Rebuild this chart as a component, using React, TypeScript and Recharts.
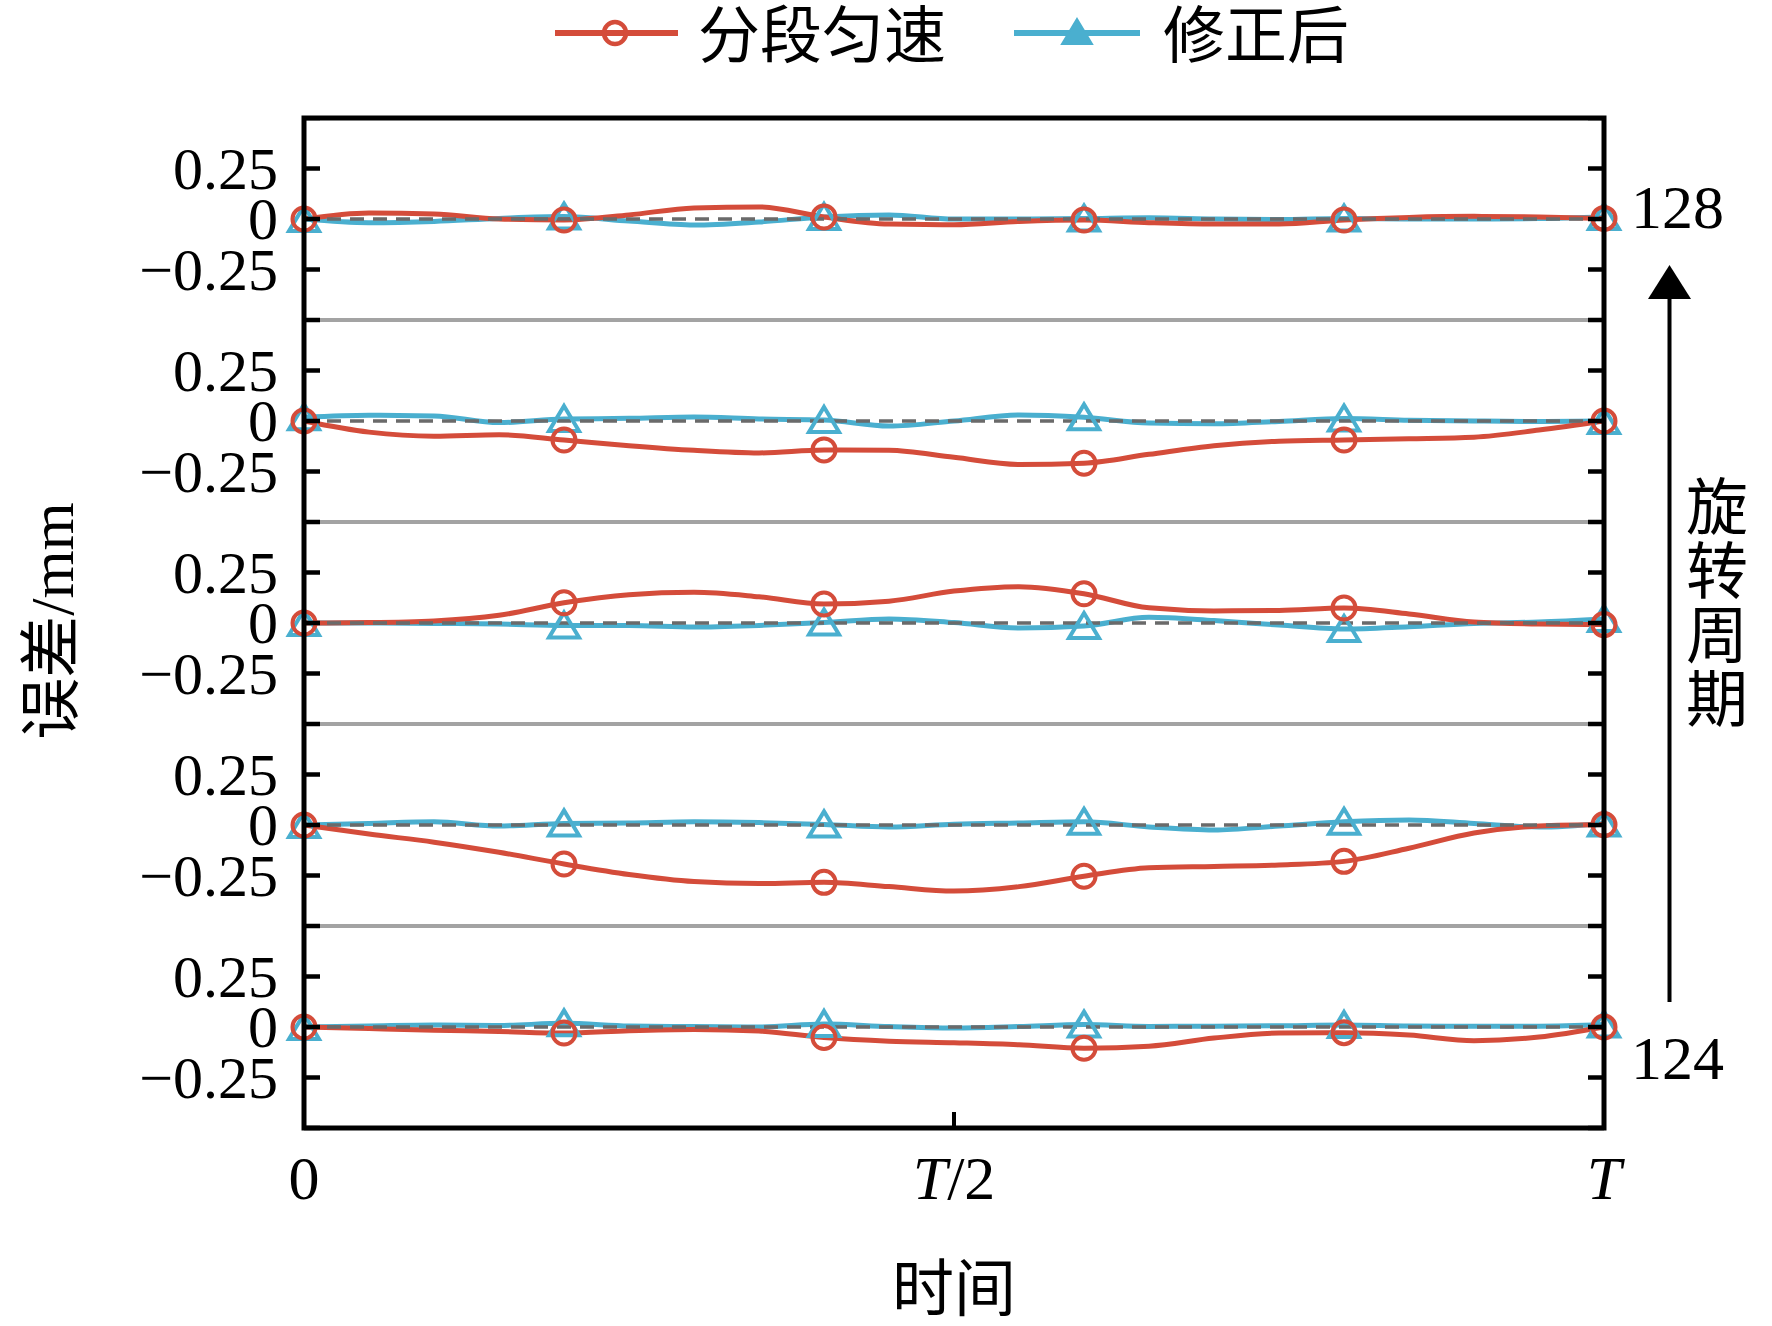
import React from "react";
import { LineChart, Line, XAxis, YAxis, ReferenceLine } from "recharts";

// time axis, in units of the rotation period T
const T_GRID = [
  0, 0.05, 0.1, 0.15, 0.2, 0.25, 0.3, 0.35, 0.4, 0.45, 0.5, 0.55, 0.6, 0.65,
  0.7, 0.75, 0.8, 0.85, 0.9, 0.95, 1,
];

// 分段匀速 (segmented uniform speed) error, mm, per rotation cycle
const SEG_128 = [
  0, 0.03, 0.025, 0, -0.005, 0.02, 0.055, 0.06, 0.01, -0.025, -0.028, -0.012,
  -0.005, -0.018, -0.025, -0.025, -0.005, 0.008, 0.013, 0.01, 0.003,
];
const SEG_127 = [
  0, -0.055, -0.075, -0.068, -0.094, -0.122, -0.145, -0.158, -0.143, -0.145,
  -0.18, -0.215, -0.209, -0.165, -0.122, -0.1, -0.094, -0.088, -0.08, -0.045, 0,
];
const SEG_126 = [
  0, 0.002, 0.01, 0.038, 0.1, 0.14, 0.152, 0.13, 0.094, 0.108, 0.158, 0.18,
  0.145, 0.075, 0.06, 0.062, 0.074, 0.045, 0.005, -0.005, -0.008,
];
const SEG_125 = [
  0, -0.045, -0.085, -0.135, -0.193, -0.245, -0.28, -0.29, -0.284, -0.305,
  -0.327, -0.305, -0.254, -0.212, -0.205, -0.198, -0.18, -0.115, -0.04, -0.005,
  0.002,
];
const SEG_124 = [
  0, -0.008, -0.016, -0.022, -0.03, -0.018, -0.012, -0.02, -0.052, -0.07,
  -0.078, -0.088, -0.105, -0.095, -0.055, -0.03, -0.028, -0.04, -0.068, -0.05, 0,
];

// 修正后 (corrected) error, mm, per rotation cycle
const COR_128 = [
  0, -0.018, -0.012, 0.003, 0.012, -0.01, -0.03, -0.015, 0.01, 0.02, 0, 0,
  0.002, 0.006, 0, -0.003, 0.002, 0, 0, 0.002, 0.01,
];
const COR_127 = [
  0.018, 0.028, 0.025, -0.008, 0.01, 0.013, 0.02, 0.01, 0.005, -0.025, 0, 0.03,
  0.018, -0.01, -0.014, -0.002, 0.012, 0.004, 0, -0.003, 0,
];
const COR_126 = [
  0, 0, -0.002, -0.005, -0.012, -0.012, -0.02, -0.012, 0.002, 0.02, 0.002,
  -0.025, -0.015, 0.028, 0.012, -0.01, -0.03, -0.018, -0.002, 0.005, 0.02,
];
const COR_125 = [
  0, 0.008, 0.016, -0.005, 0.008, 0.01, 0.016, 0.012, 0.003, -0.01, 0.004,
  0.01, 0.016, -0.01, -0.025, -0.005, 0.016, 0.025, 0.008, -0.01, 0.008,
];
const COR_124 = [
  0, 0.005, 0.01, 0.008, 0.018, 0.005, 0.002, 0, 0.015, 0.002, -0.005, 0.002,
  0.012, 0.003, 0.004, 0.006, 0.01, 0.005, 0.004, 0.004, 0.012,
];

const PANELS = [
  { seg: SEG_128, cor: COR_128 },
  { seg: SEG_127, cor: COR_127 },
  { seg: SEG_126, cor: COR_126 },
  { seg: SEG_125, cor: COR_125 },
  { seg: SEG_124, cor: COR_124 },
];

const SERIES_NAMES = ["分段匀速", "修正后"];
const CYCLE_TOP = "128";
const CYCLE_BOTTOM = "124";
const CYCLE_TITLE = ["旋", "转", "周", "期"];
const Y_TITLE = "误差/mm";
const X_TITLE = "时间";

const Y_TICKS = [-0.5, -0.25, 0, 0.25, 0.5];
const Y_TICK_LABELS = ["", "\u22120.25", "0", "0.25", ""];
const X_TICKS = [0, 0.5, 1];
const MARKER_EVERY = 4;

const RED = "#d44c3a";
const CYAN = "#4aafcf";
const FONT = "'Liberation Serif', 'Noto Sans CJK SC', serif";
const FS = 62;
const TICK_FS = 60;

const CHART_W = 1772;
const PLOT_LEFT = 304;
const PLOT_TOP = 118;
const PLOT_W = 1300;
const PANEL_H = 202;
const X_AXIS_H = 120;
const TICK_LEN = 16;

function YTick(props: any) {
  const { x, y, payload } = props;
  const label = Y_TICK_LABELS[Y_TICKS.indexOf(payload.value)];
  return (
    <g>
      <line x1={x} y1={y} x2={x + TICK_LEN} y2={y} stroke="#000" strokeWidth={4.5} />
      <line
        x1={x + PLOT_W}
        y1={y}
        x2={x + PLOT_W - TICK_LEN}
        y2={y}
        stroke="#000"
        strokeWidth={4.5}
      />
      {label ? (
        <text
          x={x - 26}
          y={y}
          textAnchor="end"
          dominantBaseline="central"
          fontFamily={FONT}
          fontSize={TICK_FS}
          fill="#000"
        >
          {label}
        </text>
      ) : null}
    </g>
  );
}

function TopTick(props: any) {
  const { x, y } = props;
  return <line x1={x} y1={y} x2={x} y2={y + TICK_LEN} stroke="#000" strokeWidth={4} />;
}

function BottomTick(props: any) {
  const { x, y, payload } = props;
  const v = payload.value;
  return (
    <g>
      {v === 0.5 ? (
        <line x1={x} y1={y} x2={x} y2={y - TICK_LEN} stroke="#000" strokeWidth={4} />
      ) : null}
      <text
        x={x}
        y={y + 71}
        textAnchor="middle"
        fontFamily={FONT}
        fontSize={FS}
        fill="#000"
      >
        {v === 0 ? "0" : null}
        {v !== 0 ? <tspan fontStyle="italic">T</tspan> : null}
        {v === 0.5 ? "/2" : null}
      </text>
    </g>
  );
}

const circleDot = (p: any) =>
  p.index % MARKER_EVERY === 0 ? (
    <circle
      key={`c${p.index}`}
      cx={p.cx}
      cy={p.cy}
      r={11.5}
      fill="none"
      stroke={RED}
      strokeWidth={4}
    />
  ) : (
    <g key={`c${p.index}`} />
  );

const triangleDot = (p: any) =>
  p.index % MARKER_EVERY === 0 ? (
    <path
      key={`t${p.index}`}
      d={`M${p.cx},${p.cy - 13} L${p.cx + 15},${p.cy + 12} L${p.cx - 15},${p.cy + 12} Z`}
      fill="none"
      stroke={CYAN}
      strokeWidth={4}
    />
  ) : (
    <g key={`t${p.index}`} />
  );

function Panel({ index }: { index: number }) {
  const { seg, cor } = PANELS[index];
  const rows = T_GRID.map((t, i) => ({ t, seg: seg[i], cor: cor[i] }));
  const isFirst = index === 0;
  const isLast = index === PANELS.length - 1;

  return (
    <div style={{ position: "absolute", left: 0, top: PLOT_TOP + index * PANEL_H }}>
      <LineChart
        width={CHART_W}
        height={isLast ? PANEL_H + X_AXIS_H : PANEL_H}
        data={rows}
        margin={{ top: 0, right: CHART_W - PLOT_LEFT - PLOT_W, bottom: 0, left: 0 }}
      >
        {isLast ? (
          <XAxis
            type="number"
            dataKey="t"
            domain={[0, 1]}
            ticks={X_TICKS}
            interval={0}
            height={X_AXIS_H}
            axisLine={false}
            tickLine={false}
            tickSize={0}
            tickMargin={0}
            tick={(p: any) => <BottomTick {...p} />}
          />
        ) : isFirst ? (
          <XAxis
            type="number"
            dataKey="t"
            domain={[0, 1]}
            orientation="top"
            ticks={[0.5]}
            interval={0}
            height={0}
            axisLine={false}
            tickLine={false}
            tickSize={0}
            tickMargin={0}
            tick={(p: any) => <TopTick {...p} />}
          />
        ) : (
          <XAxis type="number" dataKey="t" domain={[0, 1]} hide />
        )}
        <YAxis
          type="number"
          domain={[-0.5, 0.5]}
          ticks={Y_TICKS}
          interval={0}
          width={PLOT_LEFT}
          axisLine={false}
          tickLine={false}
          tickSize={0}
          tickMargin={0}
          tick={(p: any) => <YTick {...p} />}
        />
        {!isLast ? (
          <ReferenceLine y={-0.5} stroke="#a3a3a3" strokeWidth={4} />
        ) : null}
        {!isFirst ? (
          <ReferenceLine y={0.5} stroke="#a3a3a3" strokeWidth={4} />
        ) : null}
        <Line
          type="monotone"
          dataKey="cor"
          name={SERIES_NAMES[1]}
          stroke={CYAN}
          strokeWidth={5}
          dot={triangleDot}
          activeDot={false}
          isAnimationActive={false}
        />
        <Line
          type="monotone"
          dataKey="seg"
          name={SERIES_NAMES[0]}
          stroke={RED}
          strokeWidth={5}
          dot={circleDot}
          activeDot={false}
          isAnimationActive={false}
        />
        <ReferenceLine y={0} stroke="#6a6a6a" strokeWidth={3.5} strokeDasharray="14 9" />
      </LineChart>
    </div>
  );
}

function Overlay() {
  const plotBottom = PLOT_TOP + PANEL_H * PANELS.length;
  return (
    <svg
      width={CHART_W}
      height={1326}
      style={{ position: "absolute", left: 0, top: 0, pointerEvents: "none" }}
    >
      <rect
        x={PLOT_LEFT}
        y={PLOT_TOP}
        width={PLOT_W}
        height={plotBottom - PLOT_TOP}
        fill="none"
        stroke="#000"
        strokeWidth={5}
      />

      {/* legend */}
      <line x1={555} y1={33} x2={678} y2={33} stroke={RED} strokeWidth={6} />
      <circle cx={615} cy={33} r={11} fill="none" stroke={RED} strokeWidth={4.5} />
      <text x={698} y={37} dominantBaseline="central" fontFamily={FONT} fontSize={FS}>
        {SERIES_NAMES[0]}
      </text>
      <line x1={1014} y1={33} x2={1140} y2={33} stroke={CYAN} strokeWidth={6} />
      <path d="M1077,19 L1092,44 L1062,44 Z" fill={CYAN} stroke={CYAN} strokeWidth={2} />
      <text x={1163} y={37} dominantBaseline="central" fontFamily={FONT} fontSize={FS}>
        {SERIES_NAMES[1]}
      </text>

      {/* axis titles */}
      <text
        x={52}
        y={621}
        transform="rotate(-90 52 621)"
        textAnchor="middle"
        dominantBaseline="central"
        fontFamily={FONT}
        fontSize={FS}
      >
        {Y_TITLE}
      </text>
      <text
        x={PLOT_LEFT + PLOT_W / 2}
        y={1290}
        textAnchor="middle"
        dominantBaseline="central"
        fontFamily={FONT}
        fontSize={FS}
      >
        {X_TITLE}
      </text>

      {/* rotation-cycle annotation */}
      <text x={1631} y={228} fontFamily={FONT} fontSize={FS}>
        {CYCLE_TOP}
      </text>
      <text x={1631} y={1079} fontFamily={FONT} fontSize={FS}>
        {CYCLE_BOTTOM}
      </text>
      <line x1={1669.5} y1={1002} x2={1669.5} y2={296} stroke="#000" strokeWidth={4} />
      <path d="M1669.5,265 L1691,299 L1648,299 Z" fill="#000" />
      {CYCLE_TITLE.map((ch, i) => (
        <text
          key={ch}
          x={1717}
          y={509 + i * 64}
          textAnchor="middle"
          dominantBaseline="central"
          fontFamily={FONT}
          fontSize={FS}
        >
          {ch}
        </text>
      ))}
    </svg>
  );
}

export default function App() {
  return (
    <div
      style={{
        position: "absolute",
        left: 0,
        top: 0,
        width: CHART_W,
        height: 1326,
        background: "#fff",
        overflow: "hidden",
      }}
    >
      {PANELS.map((_, i) => (
        <Panel key={i} index={i} />
      ))}
      <Overlay />
    </div>
  );
}
